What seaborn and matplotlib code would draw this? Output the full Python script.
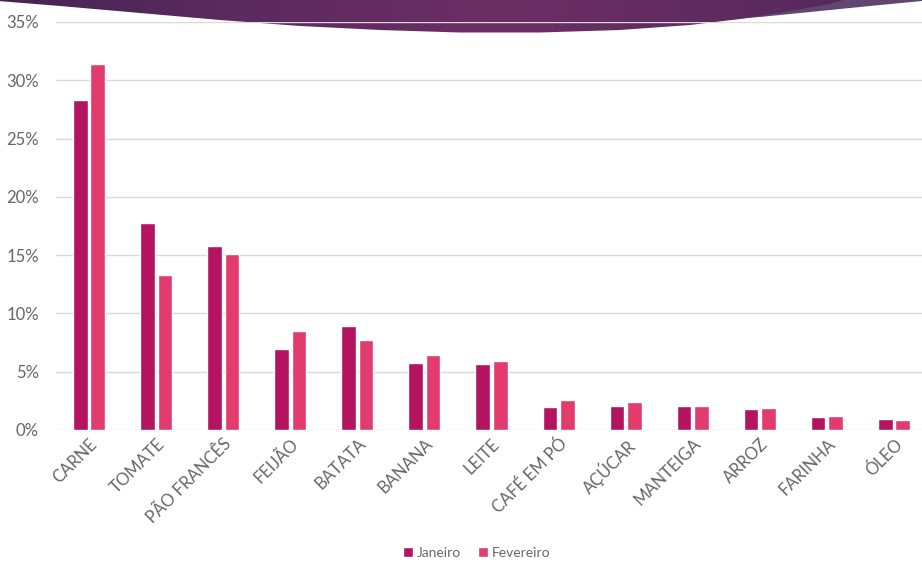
import matplotlib
matplotlib.use("Agg")
import matplotlib.pyplot as plt
import numpy as np
import pandas as pd
import seaborn as sns
from matplotlib.path import Path
from matplotlib.patches import PathPatch
from matplotlib.ticker import PercentFormatter, MultipleLocator

categories = ["CARNE", "TOMATE", "PÃO FRANCÊS", "FEIJÃO", "BATATA", "BANANA",
              "LEITE", "CAFÉ EM PÓ", "AÇÚCAR", "MANTEIGA", "ARROZ", "FARINHA", "ÓLEO"]
janeiro = [28.3, 17.8, 15.8, 6.97, 8.95, 5.75, 5.63, 2.0, 2.08, 2.1, 1.78, 1.14, 0.94]
fevereiro = [31.4, 13.3, 15.1, 8.5, 7.7, 6.4, 5.95, 2.55, 2.37, 2.1, 1.9, 1.23, 0.86]
series_names = ["Janeiro", "Fevereiro"]
colors = ["#B3135F", "#E23B6E"]

df = pd.DataFrame({
    "cat": categories * 2,
    "val": janeiro + fevereiro,
    "serie": [series_names[0]] * len(categories) + [series_names[1]] * len(categories),
})

sns.set_theme(style="white")
plt.rcParams["font.family"] = ["Lato", "DejaVu Sans"]

W, H = 922, 562
fig = plt.figure(figsize=(W / 100, H / 100), dpi=100)
fig.patch.set_facecolor("white")

# decorative banner at the top (slide background)
bg = fig.add_axes([0, 0, 1, 1], zorder=0)
bg.set_xlim(0, W)
bg.set_ylim(H, 0)
bg.axis("off")

light_pts = [(700, -2), (700, 22), (760, 17), (820, 11), (870, 6), (922, 1), (922, -2)]
light = PathPatch(Path(light_pts), facecolor="#5f4772", edgecolor="none")
bg.add_patch(light)

dark_pts = [(-2, -2), (-2, 1), (60, 6), (140, 13), (220, 20), (300, 26), (380, 30),
            (460, 32.5), (540, 32.5), (620, 30), (690, 25), (740, 19), (790, 11),
            (830, 4), (850, -2)]
dark = PathPatch(Path(dark_pts), facecolor="none", edgecolor="none")
bg.add_patch(dark)
grad = np.linspace(0, 1, 256)
shape = 1 - np.abs(grad - 0.55) * 1.6
cmap = matplotlib.colors.LinearSegmentedColormap.from_list(
    "banner", ["#3e2250", "#5a2a5e", "#6c2f64"])
im = bg.imshow(np.tile(shape, (10, 1)), cmap=cmap, aspect="auto",
               extent=[0, W, 40, 0], vmin=0, vmax=1, zorder=1)
im.set_clip_path(dark)

# main chart
left_px, right_px = 55.5, 927.5
top_px, bottom_px = 22, 430
ax = fig.add_axes([left_px / W, 1 - bottom_px / H,
                   (right_px - left_px) / W, (bottom_px - top_px) / H], zorder=2)
ax.set_facecolor("none")

sns.barplot(data=df, x="cat", y="val", hue="serie", palette=colors,
            width=0.52, gap=0.16, ax=ax, saturation=1, legend=True)

ax.set_xlim(-0.5, len(categories) - 0.5)
ax.set_ylim(0, 35)
ax.yaxis.set_major_locator(MultipleLocator(5))
ax.yaxis.set_major_formatter(PercentFormatter(xmax=100, decimals=0))
ax.grid(axis="y", color="#d9d9d9", linewidth=1)
ax.set_axisbelow(True)
for s in ax.spines.values():
    s.set_visible(False)
ax.set_xlabel("")
ax.set_ylabel("")
ax.tick_params(axis="both", length=0, colors="#666666", labelsize=12)
ax.tick_params(axis="y", pad=12)
ax.tick_params(axis="x", pad=4)
for lab in ax.get_xticklabels():
    lab.set_rotation(45)
    lab.set_ha("right")
    lab.set_rotation_mode("anchor")

handles, labels = ax.get_legend_handles_labels()
ax.get_legend().remove()
fig.legend(handles, labels, loc="center", bbox_to_anchor=(477 / W, (H - 553) / H),
           ncol=2, frameon=False, fontsize=10, labelcolor="#666666",
           handlelength=0.7, handleheight=0.7, handletextpad=0.3, columnspacing=1.2)

fig.savefig("out.png", dpi=100)
